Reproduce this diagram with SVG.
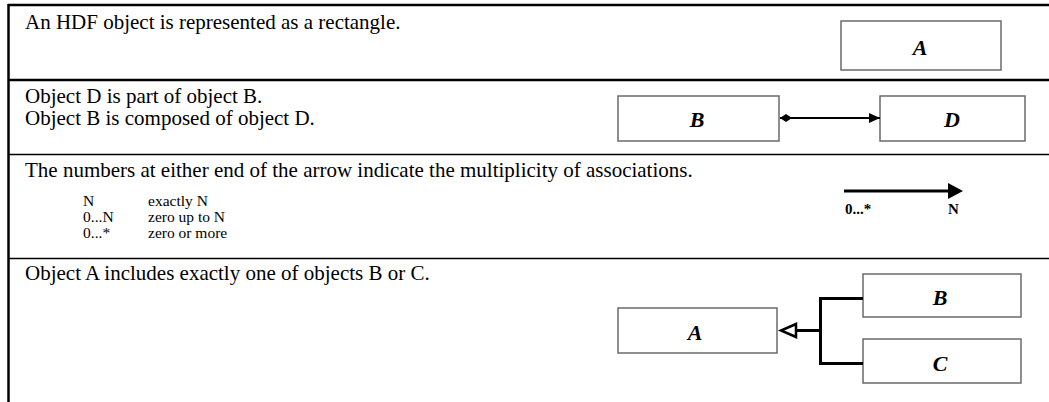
<svg xmlns="http://www.w3.org/2000/svg" width="1049" height="402" viewBox="0 0 1049 402">
<style>
.t{font-family:"Liberation Serif","Times New Roman",serif;font-size:21px;fill:#000}
.s{font-family:"Liberation Serif","Times New Roman",serif;font-size:15.5px;fill:#000}
.lbl{font-family:"Liberation Serif","Times New Roman",serif;font-size:22px;font-weight:bold;font-style:italic;fill:#000;text-anchor:middle}
.m{font-family:"Liberation Serif","Times New Roman",serif;font-size:15px;font-weight:bold;fill:#000}
.box{fill:#fff;stroke:#6a6a6a;stroke-width:1.5}
.rule{stroke:#000;fill:none}
.c{stroke:#000;fill:none}
</style>
<defs>
<marker id="diamond" markerWidth="14" markerHeight="10" refX="1" refY="5" orient="auto" markerUnits="userSpaceOnUse">
<polygon points="1,5 7,1 13,5 7,9" fill="#000"/>
</marker>
<marker id="arrow" markerWidth="12" markerHeight="12" refX="11" refY="6" orient="auto" markerUnits="userSpaceOnUse">
<polygon points="0,1 11,6 0,11" fill="#000"/>
</marker>
</defs>
<g id="table">
<line class="rule" x1="8" y1="5" x2="1049" y2="5" stroke-width="2.5"/>
<line class="rule" x1="8.5" y1="4" x2="8.5" y2="402" stroke-width="2.5"/>
<line class="rule" x1="8" y1="80" x2="1049" y2="80" stroke-width="2.5"/>
<line class="rule" x1="8" y1="154.5" x2="1049" y2="154.5" stroke-width="1.5"/>
<line class="rule" x1="8" y1="258.5" x2="1049" y2="258.5" stroke-width="1.5"/>
</g>
<g id="texts">
<text class="t" x="25" y="29">An HDF object is represented as a rectangle.</text>
<text class="t" x="25" y="103">Object D is part of object B.</text>
<text class="t" x="25" y="125">Object B is composed of object D.</text>
<text class="t" x="25" y="177">The numbers at either end of the arrow indicate the multiplicity of associations.</text>
<text class="s" x="83" y="206">N</text>
<text class="s" x="148" y="206">exactly N</text>
<text class="s" x="83" y="222">0...N</text>
<text class="s" x="148" y="222">zero up to N</text>
<text class="s" x="83" y="238">0...*</text>
<text class="s" x="148" y="238">zero or more</text>
<text class="t" x="25" y="280">Object A includes exactly one of objects B or C.</text>
</g>
<g id="node-A1">
<rect class="box" x="841" y="21" width="160" height="49"/>
<text class="lbl" x="920" y="55">A</text>
</g>
<g id="node-B1">
<rect class="box" x="618" y="96" width="161" height="45"/>
<text class="lbl" x="697" y="127">B</text>
</g>
<g id="node-D">
<rect class="box" x="880" y="96" width="145" height="45"/>
<text class="lbl" x="952" y="127">D</text>
</g>
<g id="multiplicity">
<text class="m" x="845" y="214">0...*</text>
<text class="m" x="948" y="214">N</text>
</g>
<g id="node-A2">
<rect class="box" x="618" y="308" width="159" height="45"/>
<text class="lbl" x="695" y="340">A</text>
</g>
<g id="node-B2">
<rect class="box" x="863" y="274" width="158" height="43"/>
<text class="lbl" x="940" y="305">B</text>
</g>
<g id="node-C">
<rect class="box" x="863" y="339" width="158" height="44"/>
<text class="lbl" x="940" y="371">C</text>
</g>
<g id="connectors">
<line class="c" x1="780" y1="118" x2="880" y2="118" stroke-width="2" marker-start="url(#diamond)" marker-end="url(#arrow)"/>
<line class="c" x1="844" y1="191" x2="950" y2="191" stroke-width="3"/>
<polygon points="948,183 963,191 948,199" fill="#000"/>
<path class="c" d="M863,298.5 H820.5 V363.5 H863" stroke-width="3" stroke-linejoin="miter"/>
<line class="c" x1="820" y1="330.5" x2="795" y2="330.5" stroke-width="3"/>
<polygon points="796,324 796,337 781,330.5" fill="#fff" stroke="#000" stroke-width="2.5"/>
</g>
</svg>
